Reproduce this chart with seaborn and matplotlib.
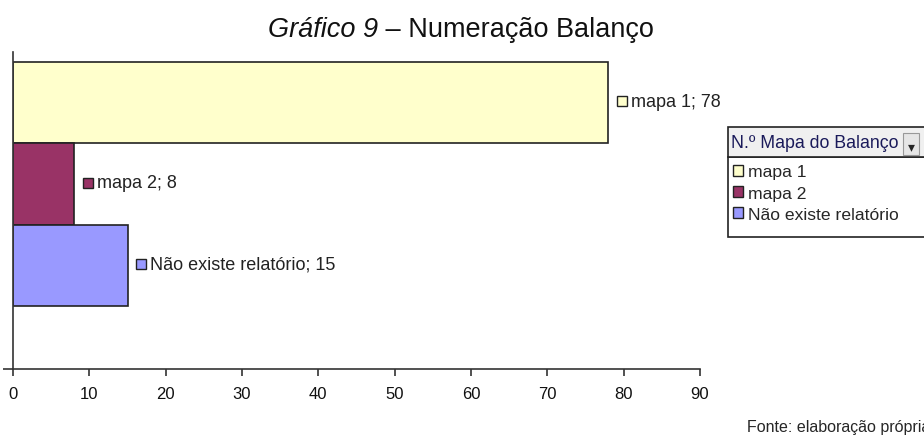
import numpy as np
import pandas as pd
import matplotlib.pyplot as plt
import matplotlib.transforms as mtransforms
from matplotlib.patches import Patch
import seaborn as sns

sns.set_style("white")
plt.rcParams["font.family"] = ["Liberation Sans", "DejaVu Sans"]

# dados do gráfico
categorias = ["mapa 1", "mapa 2", "Não existe relatório"]
valores = [78, 8, 15]
cores = ["#FFFFCC", "#993366", "#9999FF"]
ticks_x = [0, 10, 20, 30, 40, 50, 60, 70, 80, 90]

df = pd.DataFrame({"categoria": categorias, "valor": valores})

fig = plt.figure(figsize=(9.24, 4.39), dpi=100)
ax = fig.add_axes([13 / 924, 1 - 370 / 439, (700 - 13) / 924, (370 - 53) / 439])

sns.barplot(data=df, x="valor", y="categoria", hue="categoria", palette=cores,
            orient="h", width=1.0, dodge=False, legend=False, saturation=1,
            edgecolor="#222222", linewidth=1.2, ax=ax)

ax.set_xlim(0, 90)
ax.set_ylim(3.27, -0.62)
ax.set_xticks(ticks_x)
ax.set_xticklabels([str(t) for t in ticks_x], fontsize=12, color="#111111")
ax.set_yticks([3.27])
ax.set_yticklabels([""])
ax.tick_params(axis="x", bottom=True, direction="out", length=5, width=1.2, color="#333333", pad=7)
ax.tick_params(axis="y", left=True, direction="out", length=7, width=1.2, color="#333333")
ax.set_xlabel("")
ax.set_ylabel("")
for s in ["top", "right"]:
    ax.spines[s].set_visible(False)
for s in ["left", "bottom"]:
    ax.spines[s].set_color("#333333")
    ax.spines[s].set_linewidth(1.2)

# rótulos de dados com marcador
for i, (cat, v, c) in enumerate(zip(categorias, valores, cores)):
    tr = mtransforms.offset_copy(ax.transData, fig=fig, x=10, y=1, units="points")
    ax.plot([v], [i], marker="s", markersize=6.5, markerfacecolor=c,
            markeredgecolor="#222222", markeredgewidth=1, transform=tr, clip_on=False)
    ax.annotate(f"{cat}; {v}", xy=(v, i), xytext=(16.5, 1), textcoords="offset points",
                ha="left", va="center", fontsize=13, color="#222222")

# título
t1 = fig.text(268 / 924, 1 - 30 / 439, "Gráfico 9", ha="left", va="center", fontsize=19.5,
              style="italic", color="#111111")
fig.canvas.draw()
ax.annotate(" – Numeração Balanço", xy=(1, 0.5), xycoords=t1, ha="left", va="center",
            fontsize=19.5, color="#111111", annotation_clip=False)

# legenda
handles = [Patch(facecolor=c, edgecolor="#222222", label=cat) for cat, c in zip(categorias, cores)]
leg = fig.legend(handles=handles, loc="upper left", bbox_to_anchor=(729 / 924, 1 - 162 / 439),
                 frameon=False, fontsize=12.6, handlelength=0.6, handleheight=0.6,
                 handletextpad=0.3, borderpad=0.2, labelspacing=0.36, borderaxespad=0)
fig.patches.append(plt.Rectangle((728 / 924, 1 - 238 / 439), 200 / 924, 80 / 439,
                                 transform=fig.transFigure, facecolor="white",
                                 edgecolor="#222222", linewidth=1.2, zorder=-1))
fig.text(731 / 924, 1 - 143 / 439, "N.º Mapa do Balanço", ha="left", va="center",
         fontsize=12.8, color="#1a1a5a")
fig.patches.append(plt.Rectangle((728 / 924, 1 - 158 / 439), 200 / 924, 30 / 439,
                                 transform=fig.transFigure, facecolor="#F0F0F0",
                                 edgecolor="#222222", linewidth=1.2, zorder=-1))
fig.patches.append(plt.Rectangle((903 / 924, 1 - 156 / 439), 16 / 924, 22 / 439,
                                 transform=fig.transFigure, facecolor="#E6E6E6",
                                 edgecolor="#999999", linewidth=0.8, zorder=0))
fig.text(911 / 924, 1 - 147 / 439, "▾", ha="center", va="center", fontsize=10,
         family=["DejaVu Sans"])

fig.text(747 / 924, 1 - 428 / 439, "Fonte: elaboração própria", ha="left", va="center",
         fontsize=11.5)

fig.savefig("out.png", dpi=100)
